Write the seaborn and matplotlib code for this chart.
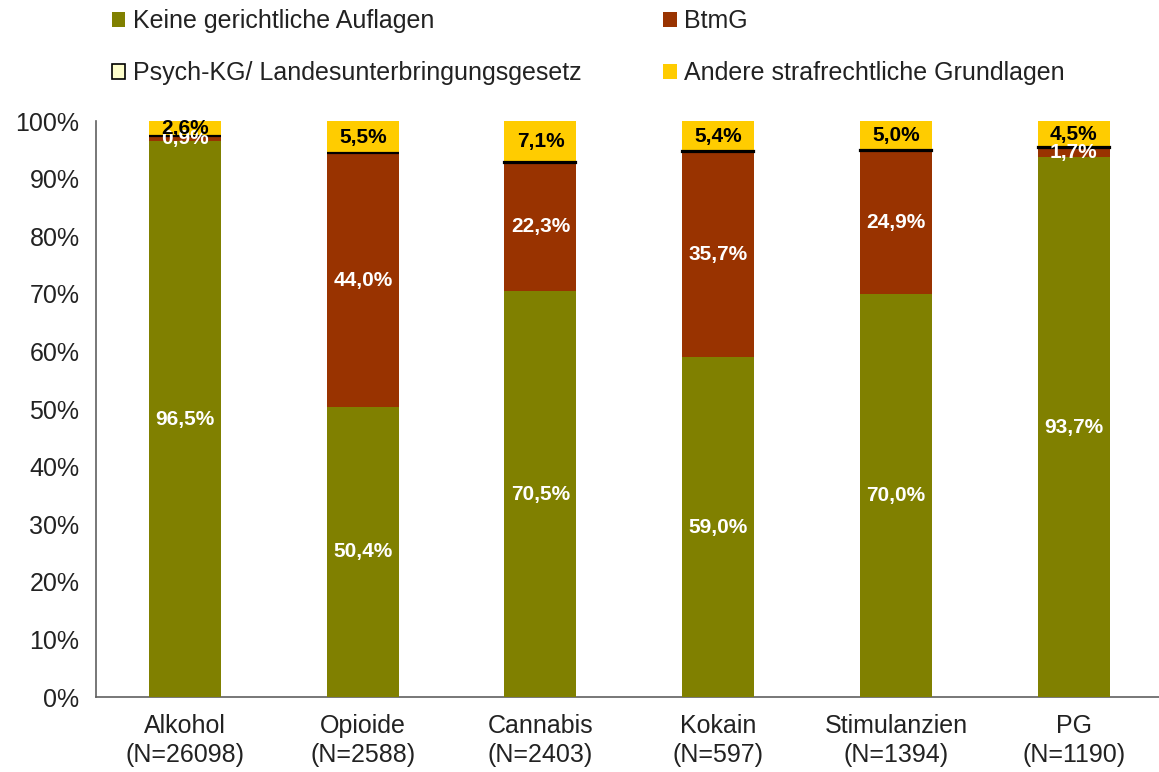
import numpy as np
import pandas as pd
import matplotlib
matplotlib.use("Agg")
import matplotlib.pyplot as plt
from matplotlib.patches import Patch
import seaborn as sns

# Data (percent)
categories = ["Alkohol\n(N=26098)", "Opioide\n(N=2588)", "Cannabis\n(N=2403)",
              "Kokain\n(N=597)", "Stimulanzien\n(N=1394)", "PG\n(N=1190)"]
keine = [96.5, 50.4, 70.5, 59.0, 70.0, 93.7]
btmg = [0.9, 44.0, 22.3, 35.7, 24.9, 1.7]
psych = [0.1, 0.1, 0.1, 0.1, 0.1, 0.1]
andere = [2.6, 5.5, 7.1, 5.4, 5.0, 4.5]

series_names = ["Keine gerichtliche Auflagen", "BtmG",
                "Psych-KG/ Landesunterbringungsgesetz", "Andere strafrechtliche Grundlagen"]
colors = ["#808000", "#993300", "#FFFFCC", "#FFCC00"]

sns.set_style("white")
plt.rcParams["font.family"] = ["Liberation Sans", "DejaVu Sans"]
txt_col = "#222222"

df = pd.DataFrame({"cat": categories, "keine": keine, "btmg": btmg,
                   "psych": psych, "andere": andere})

fig = plt.figure(figsize=(11.59, 7.72), dpi=100)
ax = fig.add_axes([0.083, 0.097, 0.92, 0.746])

bottom = np.zeros(len(df))
layers = [("keine", colors[0], "none", 0, "white"),
          ("btmg", colors[1], "none", 0, "white"),
          ("psych", colors[2], "black", 1.6, None),
          ("andere", colors[3], "none", 0, "black")]
for col, c, ec, lw, txtc in layers:
    sns.barplot(data=df, x="cat", y=col, color=c, width=0.405, bottom=bottom,
                edgecolor=ec, linewidth=lw, saturation=1, ax=ax,
                zorder=4 if col == "psych" else 3)
    cont = ax.containers[-1]
    if txtc is not None:
        labels = [f"{v:.1f}%".replace(".", ",") for v in df[col]]
        ax.bar_label(cont, labels=labels, label_type="center", color=txtc,
                     fontsize=15, fontweight="bold", zorder=6)
    bottom = bottom + df[col].to_numpy()

ax.set_ylim(0, 100)
ax.set_xlim(-0.5, len(categories) - 0.5)
ax.set_yticks(np.arange(0, 101, 10))
ax.set_yticklabels([f"{v}%" for v in range(0, 101, 10)], fontsize=18, color=txt_col)
ax.set_xticks(range(len(categories)))
ax.set_xticklabels(categories, fontsize=18, color=txt_col, linespacing=1.3)
ax.set_xticks(np.arange(-0.5, len(categories), 1), minor=True)
ax.tick_params(axis="x", which="major", length=0, pad=12)
ax.tick_params(axis="x", which="minor", length=8, color="#606060", direction="out")
ax.tick_params(axis="y", length=6, color="#606060", direction="out", pad=6)
ax.set_xlabel("")
ax.set_ylabel("")
for s in ["top", "right"]:
    ax.spines[s].set_visible(False)
for s in ["left", "bottom"]:
    ax.spines[s].set_color("#606060")
    ax.spines[s].set_linewidth(1.2)

# legend filled row-wise like the original: matplotlib fills by column, so reorder
order = [0, 2, 1, 3]
handles = [Patch(facecolor=colors[0], edgecolor="none"),
           Patch(facecolor=colors[1], edgecolor="none"),
           Patch(facecolor=colors[2], edgecolor="black", linewidth=1.2),
           Patch(facecolor=colors[3], edgecolor="none")]
fig.legend([handles[i] for i in order], [series_names[i] for i in order],
           loc="upper left", bbox_to_anchor=(0.077, 1.017), ncol=2, frameon=False,
           fontsize=18, handlelength=0.55, handleheight=0.55, handletextpad=0.3,
           columnspacing=3.25, labelspacing=1.1, labelcolor=txt_col)

fig.savefig("out.png", dpi=100)
